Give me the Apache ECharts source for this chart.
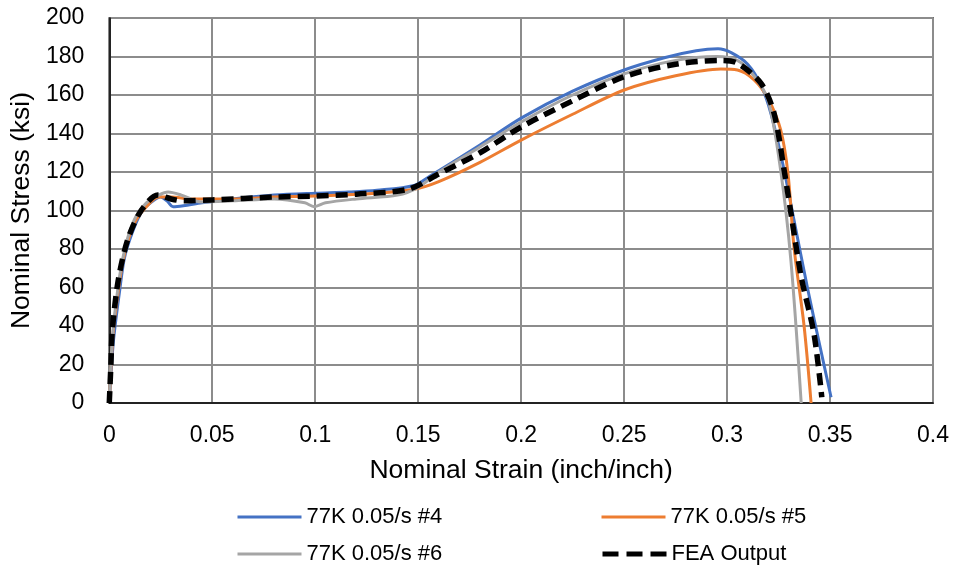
<!DOCTYPE html>
<html>
<head>
<meta charset="utf-8">
<script src="https://cdn.jsdelivr.net/npm/echarts@6/dist/echarts.min.js"></script>
<style>
  html, body { margin: 0; padding: 0; background: #fff; }
  #chart { width: 956px; height: 571px; }
</style>
</head>
<body>
<div id="chart"></div>
<script>
// strain (inch/inch), stress (ksi)
const test4 = [
  [0, 0], [0.001, 18], [0.002, 32], [0.0034, 45], [0.005, 58], [0.0073, 75], [0.011, 88],
  [0.0155, 99], [0.02, 104], [0.025, 107], [0.028, 105], [0.031, 102], [0.036, 102.5],
  [0.045, 104], [0.06, 106], [0.08, 108], [0.1, 109], [0.116, 109.6], [0.13, 110.5],
  [0.148, 113], [0.156, 118], [0.18, 134], [0.2, 148], [0.225, 162], [0.25, 173],
  [0.27, 179.5], [0.285, 183], [0.2956, 184], [0.302, 182], [0.31, 176], [0.3165, 165],
  [0.3214, 150], [0.3277, 121], [0.3325, 95], [0.339, 60], [0.345, 30], [0.3505, 3]
];
const test5 = [
  [0, 0], [0.001, 22], [0.002, 38], [0.004, 55], [0.006, 70], [0.009, 84], [0.013, 95],
  [0.018, 102], [0.024, 107], [0.03, 107], [0.04, 106], [0.06, 106], [0.08, 107],
  [0.1, 107.5], [0.13, 109], [0.148, 111], [0.16, 115], [0.18, 125], [0.2, 136.6],
  [0.225, 150], [0.25, 162.6], [0.275, 170], [0.297, 173.5], [0.305, 173], [0.313, 168],
  [0.32, 158], [0.326, 142], [0.3296, 119], [0.3325, 81], [0.3374, 40], [0.3408, 0]
];
const test6 = [
  [0, 0], [0.001, 25], [0.002, 40], [0.004, 58], [0.006, 72], [0.009, 86], [0.013, 97],
  [0.018, 104], [0.024, 108], [0.0286, 109.6], [0.035, 108], [0.0447, 104.4], [0.06, 105],
  [0.08, 106], [0.095, 104], [0.0995, 102], [0.105, 104], [0.12, 106], [0.14, 108],
  [0.15, 112], [0.16, 120], [0.18, 133], [0.2, 146], [0.225, 160], [0.25, 171],
  [0.275, 178], [0.295, 180], [0.305, 178], [0.313, 170], [0.32, 157], [0.326, 121],
  [0.331, 74], [0.336, 0]
];
const fea = [
  [0, 0], [0.0008, 20], [0.0015, 38], [0.0044, 64], [0.009, 85], [0.0155, 100],
  [0.0236, 108], [0.03, 106], [0.036, 105], [0.05, 105.5], [0.08, 107], [0.1, 107.5],
  [0.12, 108.5], [0.145, 111], [0.16, 119], [0.18, 130], [0.2, 143.4], [0.225, 157],
  [0.25, 169.5], [0.275, 176], [0.297, 178], [0.305, 176.6], [0.3165, 166],
  [0.3228, 150.6], [0.3277, 121], [0.331, 98.7], [0.336, 65.5], [0.3422, 36], [0.346, 3]
];

const names = ['77K 0.05/s #4', '77K 0.05/s #5', '77K 0.05/s #6', 'FEA Output'];
const colors = ['#4472C4', '#ED7D31', '#A5A5A5', '#000000'];
const curves = [test4, test5, test6, fea];

const font = 'Liberation Sans, Arial, sans-serif';
const chart = echarts.init(document.getElementById('chart'));

const legendPos = [
  { left: 236, top: 506 }, { left: 600, top: 506 },
  { left: 236, top: 543 }, { left: 600, top: 543 }
];

chart.setOption({
  animation: false,
  grid: { left: 108, right: 23, top: 18, bottom: 168, show: true, borderColor: '#000', borderWidth: 1.5 },
  xAxis: {
    type: 'value', min: 0, max: 0.4, interval: 0.05,
    name: 'Nominal Strain (inch/inch)', nameLocation: 'middle', nameGap: 54,
    nameTextStyle: { color: '#000', fontSize: 26.5, fontFamily: font },
    axisLine: { show: true, lineStyle: { color: '#000', width: 1.5 } },
    axisTick: { show: false },
    axisLabel: { color: '#000', fontSize: 23, fontFamily: font, margin: 21 },
    splitLine: { lineStyle: { color: '#8c8c8c', width: 2 } }
  },
  yAxis: {
    type: 'value', min: 0, max: 200, interval: 20,
    name: 'Nominal Stress (ksi)', nameLocation: 'middle', nameGap: 72,
    nameTextStyle: { color: '#000', fontSize: 26.5, fontFamily: font },
    axisLine: { show: true, lineStyle: { color: '#000', width: 1.5 } },
    axisTick: { show: false },
    axisLabel: { color: '#000', fontSize: 23, fontFamily: font, margin: 25 },
    splitLine: { lineStyle: { color: '#8c8c8c', width: 2 } }
  },
  legend: names.map((n, i) => ({
    data: [n], left: legendPos[i].left, top: legendPos[i].top, padding: 0,
    itemWidth: 64, itemHeight: 14, itemGap: 6,
    itemStyle: { opacity: 0 },
    lineStyle: i === 3 ? { width: 5, type: [16, 8] } : { width: 3 },
    textStyle: { color: '#000', fontSize: 22, fontFamily: font }
  })),
  series: curves.map((d, i) => ({
    name: names[i], type: 'line', data: d, showSymbol: false, symbol: 'none',
    smooth: 0.3, z: 2 + i,
    lineStyle: i === 3
      ? { color: colors[i], width: 5.5, type: [12, 7] }
      : { color: colors[i], width: 3 },
    itemStyle: { color: colors[i] }
  }))
});
</script>
</body>
</html>
